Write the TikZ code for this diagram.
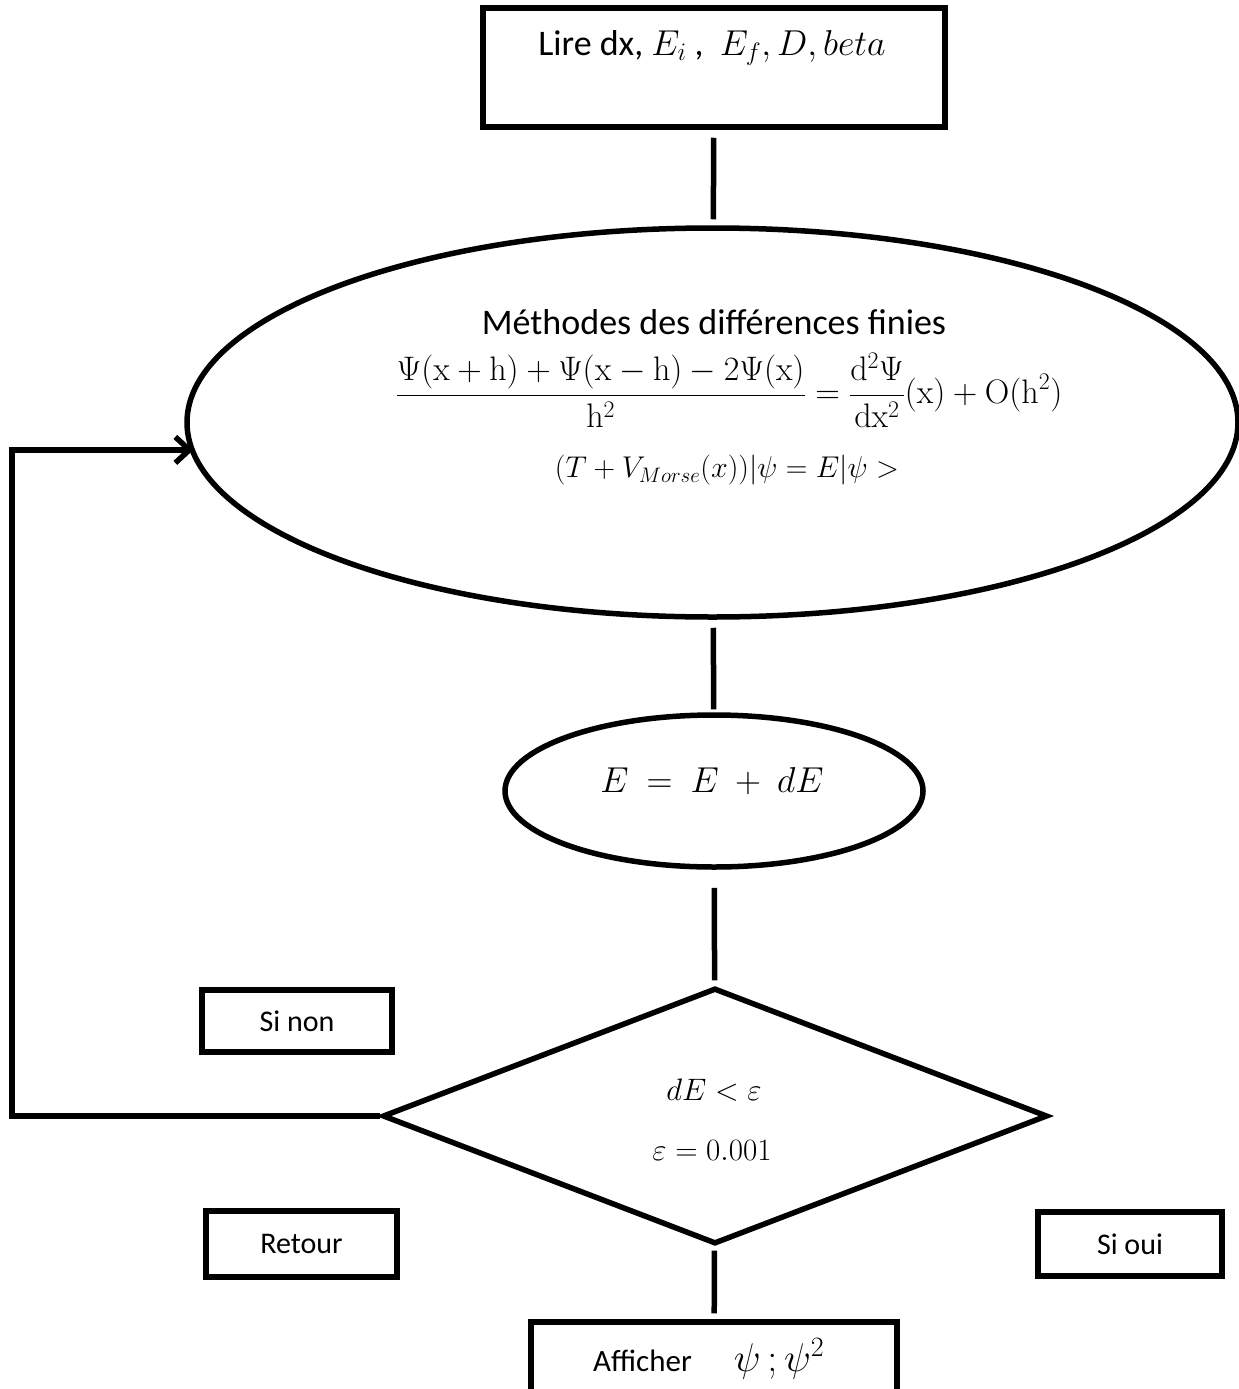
\documentclass[tikz,border=0pt]{standalone}
\usepackage{fix-cm}
\usepackage[no-math]{fontspec}
\setmainfont{Carlito}
\usetikzlibrary{shapes.geometric,arrows.meta}
\begin{document}
\begin{tikzpicture}[x=1pt,y=-1pt,
  lw/.style={line width=5.5pt},
  boxn/.style={draw,lw,rectangle,inner sep=0pt},
  ell/.style={draw,lw,ellipse,inner sep=0pt},
  conn/.style={lw},
  txt/.style={inner sep=0pt,font=\fontsize{30}{36}\selectfont},
  bigtxt/.style={inner sep=0pt,font=\fontsize{36}{43}\selectfont},
  mtxt/.style={inner sep=0pt,font=\fontsize{31}{37}\selectfont}]
\useasboundingbox (0,0) rectangle (1239,1389);
\clip (0,0) rectangle (1239,1389);
% shapes
\node[boxn,minimum width=462pt,minimum height=119pt] (lire) at (714,67.5) {};
\node[bigtxt] (lireT) at (712,48) {Lire dx, $E_i$ ,\ \ $E_f, D, beta$};
\node[ell,minimum width=1051pt,minimum height=389pt] (mdf) at (712.5,422.5) {};
\node[bigtxt] (mdfT) at (714,322) {Méthodes des différences finies};
\node[inner sep=0pt,font=\fontsize{34}{40}\selectfont] (eqn) at (729,390)
  {$\displaystyle \frac{\Psi(\mathrm{x}+\mathrm{h})+\Psi(\mathrm{x}-\mathrm{h})-2\Psi(\mathrm{x})}{\mathrm{h}^2}
   =\frac{\mathrm{d}^2\Psi}{\mathrm{d}\mathrm{x}^2}(\mathrm{x})+\mathrm{O}(\mathrm{h}^2)$};
\node[inner sep=0pt,font=\fontsize{30}{36}\selectfont] (ham) at (727,470)
  {$(T+V_{Morse}(x))|\psi=E|\psi>$};
\node[ell,minimum width=418pt,minimum height=152pt] (upd) at (714,791) {};
\node[inner sep=0pt,font=\fontsize{36}{43}\selectfont] (updT) at (712,781) {$E\ =\ E\ +\ dE$};
\node[draw,lw,diamond,inner sep=0pt,minimum width=665pt,minimum height=256pt] (test) at (715,1116) {};
\node[mtxt] (testA) at (714,1090) {$dE<\varepsilon$};
\node[mtxt] (testB) at (712,1150) {$\varepsilon=0.001$};
\node[boxn,minimum width=190pt,minimum height=62pt,txt] (sinon) at (297,1021) {Si non};
\node[boxn,minimum width=191pt,minimum height=66pt,txt] (retour) at (301.5,1244) {Retour};
\node[boxn,minimum width=184pt,minimum height=64pt,txt] (sioui) at (1130,1244) {Si oui};
\node[boxn,minimum width=366pt,minimum height=90pt] (aff) at (714,1367) {};
\node[inner sep=0pt,font=\fontsize{31}{37}\selectfont,anchor=base west] (affT) at (593,1371)
  {Afficher\hspace{42pt}{\fontsize{40}{48}\selectfont$\psi\,;\psi^2$}};
% connectors
\draw[conn,shorten <=8pt,shorten >=6pt] (lire) -- (mdf);
\draw[conn,shorten <=8pt,shorten >=3pt] (mdf) -- (upd);
\draw[conn,shorten <=18pt,shorten >=5pt] (upd) -- (test);
\draw[conn,shorten <=4pt,shorten >=6pt] (test) -- (aff);
\coordinate (lx) at (12,800);
\draw[conn,-{Straight Barb[length=14pt,width=26pt]},shorten >=-4pt] (test.west) -| (lx) |- (mdf.183.8);
\end{tikzpicture}
\end{document}
